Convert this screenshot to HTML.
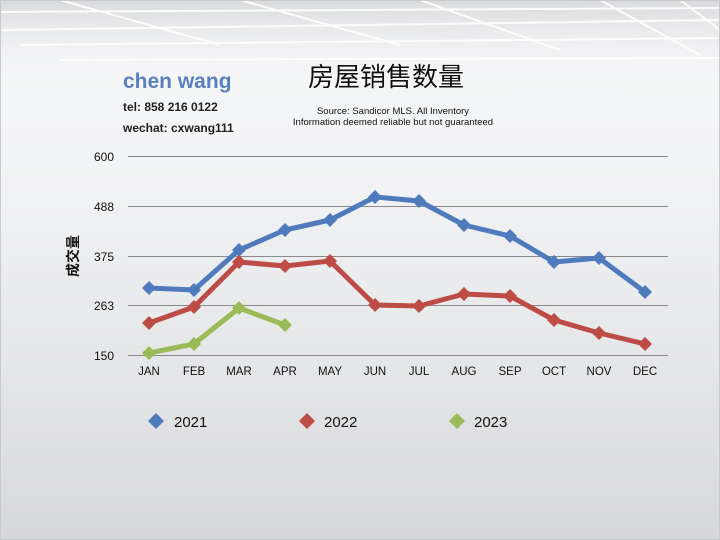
<!DOCTYPE html>
<html><head><meta charset="utf-8"><style>
html,body{margin:0;padding:0}
body{width:720px;height:540px;overflow:hidden;background:linear-gradient(#f6f7f8 0%,#f3f4f5 30%,#e8e9eb 60%,#d7d8da 100%);font-family:"Liberation Sans","Noto Sans CJK SC",sans-serif;position:relative}
</style></head><body>
<svg width="720" height="540" style="position:absolute;left:0;top:0" font-family="Liberation Sans, Noto Sans CJK SC, sans-serif">
<defs><linearGradient id="top" x1="0" y1="0" x2="0" y2="1"><stop offset="0" stop-color="#d9dadc"/><stop offset="1" stop-color="#f4f5f6" stop-opacity="0"/></linearGradient></defs>
<rect x="0" y="0" width="720" height="85" fill="url(#top)"/>
<g stroke="#ffffff" stroke-width="2" opacity="0.9" fill="none">
<path d="M0 12 L720 8"/><path d="M0 30 L720 20"/><path d="M20 45 L720 38"/><path d="M60 60 L720 58"/>
<path d="M60 0 L220 45"/><path d="M240 0 L400 45"/><path d="M420 0 L560 50"/><path d="M600 0 L700 55"/><path d="M680 0 L720 30"/>
</g>
<rect x="0.5" y="0.5" width="719" height="539" fill="none" stroke="#c8c9cb"/>
<text x="123" y="88" font-size="21" font-weight="bold" fill="#5a7fbf">chen wang</text>
<text x="123" y="111" font-size="12" font-weight="bold" fill="#222">tel: 858 216 0122</text>
<text x="123" y="132" font-size="12" font-weight="bold" fill="#222">wechat: cxwang111</text>
<text x="386" y="86" font-size="26" fill="#111" text-anchor="middle">房屋销售数量</text>
<text x="393" y="114" font-size="9.5" fill="#111" text-anchor="middle">Source: Sandicor MLS. All Inventory</text>
<text x="393" y="125" font-size="9.5" fill="#111" text-anchor="middle">Information deemed reliable but not guaranteed</text>
<g stroke="#8a8a8a" stroke-width="1">
<line x1="128" y1="156.5" x2="668" y2="156.5"/><line x1="128" y1="206.5" x2="668" y2="206.5"/><line x1="128" y1="256.5" x2="668" y2="256.5"/><line x1="128" y1="305.5" x2="668" y2="305.5"/><line x1="128" y1="355.5" x2="668" y2="355.5"/>
</g>
<g font-size="12" fill="#111" text-anchor="end">
<text x="114" y="161">600</text><text x="114" y="211">488</text><text x="114" y="261">375</text><text x="114" y="310">263</text><text x="114" y="360">150</text>
</g>
<text transform="translate(78,256) rotate(-90)" font-size="14" font-weight="bold" text-anchor="middle" fill="#111">成交量</text>
<g font-size="11.5" fill="#111" text-anchor="middle">
<text x="149" y="375">JAN</text><text x="194" y="375">FEB</text><text x="239" y="375">MAR</text><text x="285" y="375">APR</text><text x="330" y="375">MAY</text><text x="375" y="375">JUN</text><text x="419" y="375">JUL</text><text x="464" y="375">AUG</text><text x="510" y="375">SEP</text><text x="554" y="375">OCT</text><text x="599" y="375">NOV</text><text x="645" y="375">DEC</text>
</g>
<g fill="none" stroke-width="5" stroke-linejoin="round">
<polyline stroke="#4f7bbd" points="149,288 194,290 239,250 285,230 330,220 375,197 419,201 464,225 510,236 554,262 599,258 645,292"/>
<polyline stroke="#bd4c47" points="149,323 194,307 239,262 285,266 330,261 375,305 419,306 464,294 510,296 554,320 599,333 645,344"/>
<polyline stroke="#9bbb59" points="149,353 194,344 239,308 285,325"/>
</g>
<g id="m">
<g fill="#4f7bbd"><path d="M149 281l7 7-7 7-7-7z"/><path d="M194 283l7 7-7 7-7-7z"/><path d="M239 243l7 7-7 7-7-7z"/><path d="M285 223l7 7-7 7-7-7z"/><path d="M330 213l7 7-7 7-7-7z"/><path d="M375 190l7 7-7 7-7-7z"/><path d="M419 194l7 7-7 7-7-7z"/><path d="M464 218l7 7-7 7-7-7z"/><path d="M510 229l7 7-7 7-7-7z"/><path d="M554 255l7 7-7 7-7-7z"/><path d="M599 251l7 7-7 7-7-7z"/><path d="M645 285l7 7-7 7-7-7z"/></g>
<g fill="#bd4c47"><path d="M149 316l7 7-7 7-7-7z"/><path d="M194 300l7 7-7 7-7-7z"/><path d="M239 255l7 7-7 7-7-7z"/><path d="M285 259l7 7-7 7-7-7z"/><path d="M330 254l7 7-7 7-7-7z"/><path d="M375 298l7 7-7 7-7-7z"/><path d="M419 299l7 7-7 7-7-7z"/><path d="M464 287l7 7-7 7-7-7z"/><path d="M510 289l7 7-7 7-7-7z"/><path d="M554 313l7 7-7 7-7-7z"/><path d="M599 326l7 7-7 7-7-7z"/><path d="M645 337l7 7-7 7-7-7z"/></g>
<g fill="#9bbb59"><path d="M149 346l7 7-7 7-7-7z"/><path d="M194 337l7 7-7 7-7-7z"/><path d="M239 301l7 7-7 7-7-7z"/><path d="M285 318l7 7-7 7-7-7z"/></g>
</g>
<path d="M156 413l8 8-8 8-8-8z" fill="#4f7bbd"/><text x="174" y="427" font-size="15" fill="#111">2021</text>
<path d="M307 413l8 8-8 8-8-8z" fill="#bd4c47"/><text x="324" y="427" font-size="15" fill="#111">2022</text>
<path d="M457 413l8 8-8 8-8-8z" fill="#9bbb59"/><text x="474" y="427" font-size="15" fill="#111">2023</text>
</svg>
</body></html>
